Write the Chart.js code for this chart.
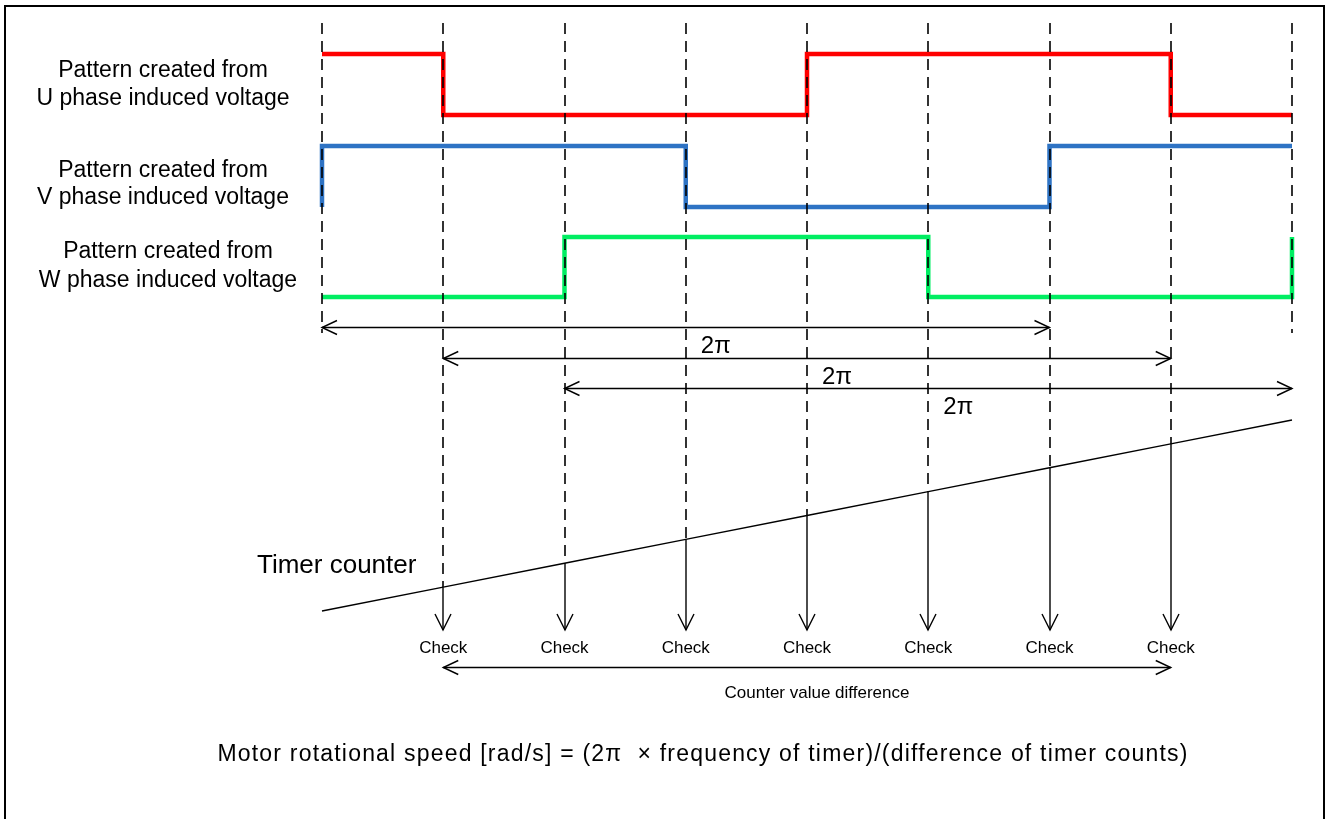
<!DOCTYPE html>
<html>
<head>
<meta charset="utf-8">
<script src="https://cdn.jsdelivr.net/npm/chart.js@4/dist/chart.umd.min.js"></script>
<style>
  html,body{margin:0;padding:0;background:#fff;}
  #wrap{width:1326px;height:819px;}
</style>
</head>
<body>
<div id="wrap"><canvas id="c" width="1326" height="819"></canvas></div>
<script>
// Instants (units of pi/3) and logic levels of each pattern
const uTimes = [0,1,2,3,4,5,6,7,8];
const uLevels = [1,0,0,0,1,1,1,0,0];
const vTimes = [0,0,1,2,3,4,5,6,7,8];
const vLevels = [0,1,1,1,0,0,0,1,1,1];
const wTimes = [0,1,2,3,4,5,6,7,8,8];
const wLevels = [0,0,1,1,1,0,0,0,0,1];

// Timer counter value at each instant
const counterTimes = [0,1,2,3,4,5,6,7,8];
const counterValues = [0,1,2,3,4,5,6,7,8];

const checkTimes = [1,2,3,4,5,6,7];
const periodStarts = [0,1,2];
const periodEnds = [6,7,8];
const periodLabel = "2\u03c0";
const diffStart = 1, diffEnd = 7;

const signalLabels = [
  ["Pattern created from","U phase induced voltage"],
  ["Pattern created from","V phase induced voltage"],
  ["Pattern created from","W phase induced voltage"]
];
const checkLabel = "Check";
const diffLabel = "Counter value difference";
const counterLabel = "Timer counter";
const formulaText = "Motor rotational speed [rad/s] = (2\u03c0  \u00d7 frequency of timer)/(difference of timer counts)";

// layout
const W = 1326, H = 819;
const PAD = {left:322, right:34, top:23, bottom:189};
const AREA_TOP = PAD.top, AREA_H = H - PAD.top - PAD.bottom;
const FONT = "'Liberation Sans', Arial, sans-serif";

// axis range so that value a sits at pixel pa and value b at pixel pb
function band(a, pa, b, pb){
  const unit = (pa - pb)/(b - a);
  const max = a + (pa - AREA_TOP)/unit;
  return {min: max - AREA_H/unit, max: max};
}
const hidden = {display:false, bounds:'data'};

const pts = (xs, ys) => xs.map((x,i)=>({x:x, y:ys[i]}));

function arrowHead(ctx, x, y, dx, dy, len, half){
  ctx.beginPath();
  ctx.moveTo(x - dx*len - dy*half, y - dy*len + dx*half);
  ctx.lineTo(x, y);
  ctx.lineTo(x - dx*len + dy*half, y - dy*len - dx*half);
  ctx.stroke();
}

const diagram = {
  id:'diagram',
  beforeDraw(chart){
    const ctx = chart.ctx;
    ctx.save();
    ctx.fillStyle = '#fff';
    ctx.fillRect(0,0,W,H);
    ctx.strokeStyle = '#000'; ctx.lineWidth = 2;
    ctx.strokeRect(5, 6, 1319, 900);
    ctx.restore();
  },
  afterDatasetsDraw(chart){
    const ctx = chart.ctx, xs = chart.scales.x, yT = chart.scales.yT;
    const area = chart.chartArea;
    const px = t => xs.getPixelForValue(t);
    const cy = t => yT.getPixelForValue(counterValues[counterTimes.indexOf(t)]);
    ctx.save();
    ctx.strokeStyle = '#000'; ctx.fillStyle = '#000';

    // dashed guides
    ctx.lineWidth = 1.6;
    ctx.setLineDash([11,7]);
    counterTimes.forEach(t=>{
      const end = checkTimes.includes(t) ? cy(t) : 333;
      ctx.beginPath(); ctx.moveTo(Math.round(px(t)), area.top); ctx.lineTo(Math.round(px(t)), end); ctx.stroke();
    });
    ctx.setLineDash([]);

    // check arrows
    ctx.lineWidth = 1.4;
    checkTimes.forEach(t=>{
      const x = Math.round(px(t));
      ctx.beginPath(); ctx.moveTo(x, cy(t)); ctx.lineTo(x, area.bottom); ctx.stroke();
      arrowHead(ctx, x, area.bottom, 0, 1, 16, 8);
    });

    // period arrows
    const periodY = [327, 358, 388];
    ctx.font = "24px " + FONT; ctx.textAlign = 'center'; ctx.textBaseline = 'alphabetic';
    periodStarts.forEach((s,i)=>{
      const x0 = px(s), x1 = px(periodEnds[i]), y = periodY[i] + 0.5;
      ctx.beginPath(); ctx.moveTo(x0, y); ctx.lineTo(x1, y); ctx.stroke();
      arrowHead(ctx, x0, y, -1, 0, 15, 7);
      arrowHead(ctx, x1, y, 1, 0, 15, 7);
      ctx.fillText(periodLabel, (x0+x1)/2 + 30, y + 25);
    });

    // check labels
    ctx.font = "17px " + FONT;
    checkTimes.forEach(t=> ctx.fillText(checkLabel, px(t), 653));

    // counter difference arrow
    const dy = 667.5, d0 = px(diffStart), d1 = px(diffEnd);
    ctx.beginPath(); ctx.moveTo(d0, dy); ctx.lineTo(d1, dy); ctx.stroke();
    arrowHead(ctx, d0, dy, -1, 0, 15, 7);
    arrowHead(ctx, d1, dy, 1, 0, 15, 7);
    ctx.fillText(diffLabel, (d0+d1)/2 + 10, 698);

    // signal labels
    ctx.font = "23px " + FONT;
    const labelPos = [[163,77,105],[163,177,204],[168,258,287]];
    signalLabels.forEach((l,i)=>{
      ctx.fillText(l[0], labelPos[i][0], labelPos[i][1]);
      ctx.fillText(l[1], labelPos[i][0], labelPos[i][2]);
    });

    ctx.textAlign = 'left';
    ctx.font = "26px " + FONT;
    ctx.fillText(counterLabel, 257, 573);

    ctx.textAlign = 'center';
    ctx.font = "23px " + FONT;
    ctx.letterSpacing = "1.2px";
    ctx.fillText(formulaText, 703, 761);
    ctx.letterSpacing = "0px";
    ctx.restore();
  }
};

const stepStyle = (color) => ({
  borderColor: color, borderWidth: 4.5, pointRadius: 0, stepped: 'before',
  borderJoinStyle: 'miter', borderCapStyle: 'butt', fill: false, clip: false, tension: 0
});

new Chart(document.getElementById('c'), {
  type: 'line',
  data: {
    datasets: [
      Object.assign({label:'U', data: pts(uTimes,uLevels), yAxisID:'yU'}, stepStyle('#FF0000')),
      Object.assign({label:'V', data: pts(vTimes,vLevels), yAxisID:'yV'}, stepStyle('#2E73C4')),
      Object.assign({label:'W', data: pts(wTimes,wLevels), yAxisID:'yW'}, stepStyle('#00EE62')),
      {label:'Timer', data: pts(counterTimes,counterValues), yAxisID:'yT', borderColor:'#000',
       borderWidth:1.5, pointRadius:0, fill:false, clip:false, tension:0}
    ]
  },
  options: {
    responsive: false,
    animation: false,
    devicePixelRatio: 1,
    layout: {padding: PAD},
    plugins: {legend:{display:false}, tooltip:{enabled:false}, title:{display:false}},
    scales: {
      x: Object.assign({type:'linear', min:0, max:8}, hidden),
      yU: Object.assign({type:'linear'}, band(0,115,1,54), hidden),
      yV: Object.assign({type:'linear'}, band(0,207,1,146), hidden),
      yW: Object.assign({type:'linear'}, band(0,297,1,237), hidden),
      yT: Object.assign({type:'linear'}, band(0,611,8,420), hidden)
    }
  },
  plugins: [diagram]
});
</script>
</body>
</html>
